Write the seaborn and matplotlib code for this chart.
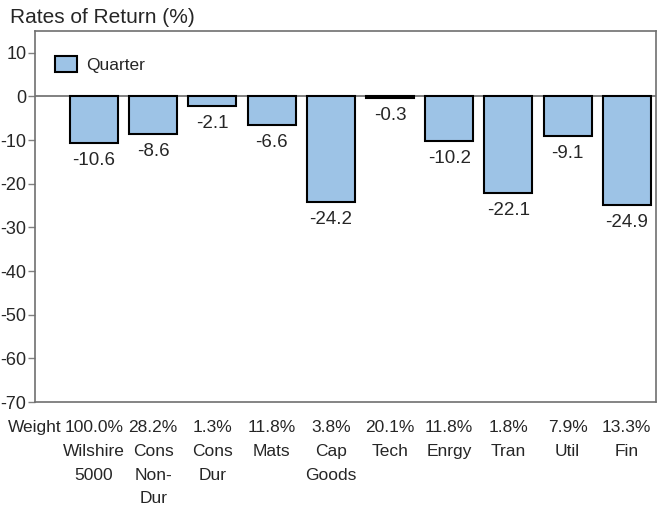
import matplotlib
matplotlib.use("Agg")
import matplotlib.pyplot as plt
import seaborn as sns
import pandas as pd

# data
sectors = ["Wilshire\n5000", "Cons\nNon-\nDur", "Cons\nDur", "Mats", "Cap\nGoods",
           "Tech", "Enrgy", "Tran", "Util", "Fin"]
weights = ["100.0%", "28.2%", "1.3%", "11.8%", "3.8%",
           "20.1%", "11.8%", "1.8%", "7.9%", "13.3%"]
quarter = [-10.6, -8.6, -2.1, -6.6, -24.2, -0.3, -10.2, -22.1, -9.1, -24.9]

df = pd.DataFrame({"sector": range(len(sectors)), "quarter": quarter})

sns.set_style("white")
plt.rcParams["font.family"] = ["Liberation Sans", "DejaVu Sans"]
plt.rcParams["axes.unicode_minus"] = False

fig = plt.figure(figsize=(6.57, 5.07), dpi=100)
ax = fig.add_axes([0.053, 0.207, 0.946, 0.732])

sns.barplot(df, x="sector", y="quarter", color="#9dc3e6", edgecolor="black",
            linewidth=1.5, width=0.81, saturation=1, label="Quarter", ax=ax)

ax.axhline(0, color="#808080", linewidth=1.4, zorder=0)

# value labels under each bar
for i, v in enumerate(quarter):
    ax.annotate(f"{v:.1f}", (i, v), xytext=(0, -6.5), textcoords="offset points",
                ha="center", va="top", fontsize=13.5)

ax.set_ylim(-70, 15)
ax.set_yticks(range(-70, 11, 10))
ax.set_xlim(-1, 9.5)
ax.set_xticks(range(-1, len(sectors)))
ax.set_xticklabels(["Weight"] + [f"{w}\n{s}" for w, s in zip(weights, sectors)],
                   va="top", linespacing=1.73)
ax.tick_params(axis="x", length=0, labelsize=12.5, pad=13)
ax.tick_params(axis="y", length=5, width=1, color="#808080", labelsize=13,
               left=True, direction="out", pad=1)
ax.set_xlabel("")
ax.set_ylabel("")

for side in ["left", "top", "bottom", "right"]:
    ax.spines[side].set_color("#707070")
    ax.spines[side].set_linewidth(1.2)

ax.legend(loc="upper left", bbox_to_anchor=(0, 0.985), frameon=False, fontsize=12.5,
          handlelength=1.3, handleheight=1.0, borderaxespad=0.75, handletextpad=0.5)

fig.text(0.015, 0.966, "Rates of Return (%)", fontsize=15, va="center", ha="left")

fig.savefig("out.png", dpi=100)
